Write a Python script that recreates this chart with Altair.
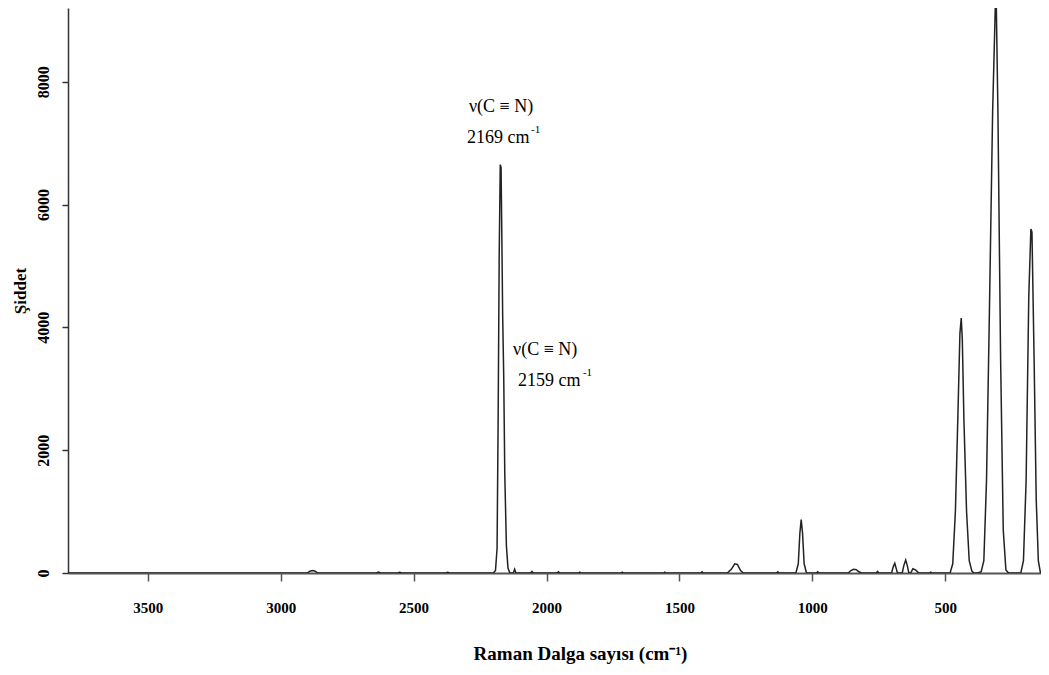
import altair as alt
import pandas as pd

# Raman spectrum (wavenumber cm-1, intensity)
wavenumber = [3800, 2900, 2890, 2880, 2870, 2860, 2640, 2632, 2624, 2560, 2552, 2544,
              2380, 2372, 2364, 2200, 2192, 2186, 2182, 2178, 2174, 2171, 2168, 2165,
              2161, 2157, 2151, 2145, 2138, 2125, 2120, 2115,
              2060, 2055, 2050, 1960, 1955, 1950, 1880, 1875, 1870, 1720, 1715, 1710,
              1560, 1555, 1550, 1420, 1415, 1410,
              1320, 1305, 1292, 1282, 1270, 1260,
              1135, 1130, 1125,
              1062, 1053, 1047, 1042, 1037, 1031, 1022,
              985, 980, 975, 865, 855, 845, 835, 825, 815, 760, 755, 750,
              702, 696, 690, 685, 680, 662, 656, 649, 643, 637, 630, 622, 612, 600,
              560, 555, 550,
              482, 472, 462, 453, 445, 440, 436, 430, 420, 410, 400, 392,
              378, 365, 355, 345, 335, 322, 312, 308, 302, 292, 282, 272, 262,
              216, 206, 196, 186, 178, 174, 166, 158, 150, 142, 140]
intensity = [0, 0, 30, 40, 30, 0, 0, 15, 0, 0, 12, 0,
             0, 12, 0, 0, 40, 400, 2500, 5200, 6650, 6600, 5450, 4200,
             3200, 1600, 450, 80, 0, 0, 60, 0,
             0, 25, 0, 0, 20, 0, 0, 15, 0, 0, 15, 0,
             0, 15, 0, 0, 20, 0,
             0, 60, 150, 140, 40, 0,
             0, 20, 0,
             0, 150, 650, 870, 650, 150, 0,
             0, 20, 0, 0, 40, 60, 55, 20, 0, 0, 25, 0,
             0, 100, 160, 80, 0, 0, 120, 210, 120, 0, 0, 70, 50, 0,
             0, 15, 0,
             0, 150, 1000, 2500, 3900, 4150, 3800, 2500, 1000, 200, 30, 0,
             0, 20, 200, 1500, 4000, 7500, 9200, 9200, 7500, 3500, 700, 50, 0,
             0, 200, 1500, 4500, 5600, 5550, 3500, 1200, 200, 0, 0]

# annotation texts and their anchor values
ann_text = ["ν(C ≡ N)", "2169 cm", "ν(C ≡ N)", "2159 cm"]
ann_x = [2292, 2299, 2126, 2107]
ann_y = [7593, 7089, 3626, 3122]
sup_text = ["-1", "-1"]
sup_x = [2058, 1863]
sup_y = [7220, 3250]

spec = pd.DataFrame({"w": wavenumber, "i": intensity})
ann = pd.DataFrame({"t": ann_text, "w": ann_x, "i": ann_y})
sup = pd.DataFrame({"t": sup_text, "w": sup_x, "i": sup_y})

xscale = alt.Scale(domain=[140, 3800], reverse=True, nice=False, zero=False)
yscale = alt.Scale(domain=[0, 9200], nice=False)

serif = "Liberation Serif"

xaxis = alt.Axis(
    title="Raman Dalga sayısı (cm⁻¹)",
    values=[3500, 3000, 2500, 2000, 1500, 1000, 500],
    format="d",
    labelFont=serif, labelFontWeight="bold", labelFontSize=15, labelColor="black",
    labelPadding=19, labelFlush=False,
    titleFont=serif, titleFontWeight="bold", titleFontSize=19, titleColor="black",
    titlePadding=29, titleX=512, titleAlign="center",
    domainColor="#555", domainWidth=2, tickColor="#555", tickWidth=1.5, tickSize=8,
    grid=False,
)
yaxis = alt.Axis(
    title="Şiddet",
    values=[0, 2000, 4000, 6000, 8000],
    format="d",
    labelFont=serif, labelFontWeight="bold", labelFontSize=16, labelColor="black",
    labelAngle=270, labelAlign="center", labelBaseline="bottom", labelPadding=11,
    titleFont=serif, titleFontWeight="bold", titleFontSize=17, titleColor="black",
    titlePadding=6,
    domainColor="#333", domainWidth=1.5, tickColor="#333", tickWidth=1.5, tickSize=6,
    grid=False,
)

line = alt.Chart(spec).mark_line(color="#222", strokeWidth=1.5, clip=True).encode(
    x=alt.X("w:Q", scale=xscale, axis=xaxis),
    y=alt.Y("i:Q", scale=yscale, axis=yaxis),
)

labels = alt.Chart(ann).mark_text(
    font=serif, fontSize=18, align="left", baseline="middle", color="black"
).encode(x=alt.X("w:Q", scale=xscale), y=alt.Y("i:Q", scale=yscale), text="t:N")

sups = alt.Chart(sup).mark_text(
    font=serif, fontSize=11, align="left", baseline="middle", color="black"
).encode(x=alt.X("w:Q", scale=xscale), y=alt.Y("i:Q", scale=yscale), text="t:N")

chart = alt.layer(line, labels, sups).properties(
    width=973, height=565,
    padding={"left": 60, "top": 0, "right": 0, "bottom": 94},
    autosize=alt.AutoSizeParams(type="none"),
).configure(background="white").configure_view(stroke=None)

chart.save("out.html", embed_options={"renderer": "svg", "actions": False})
